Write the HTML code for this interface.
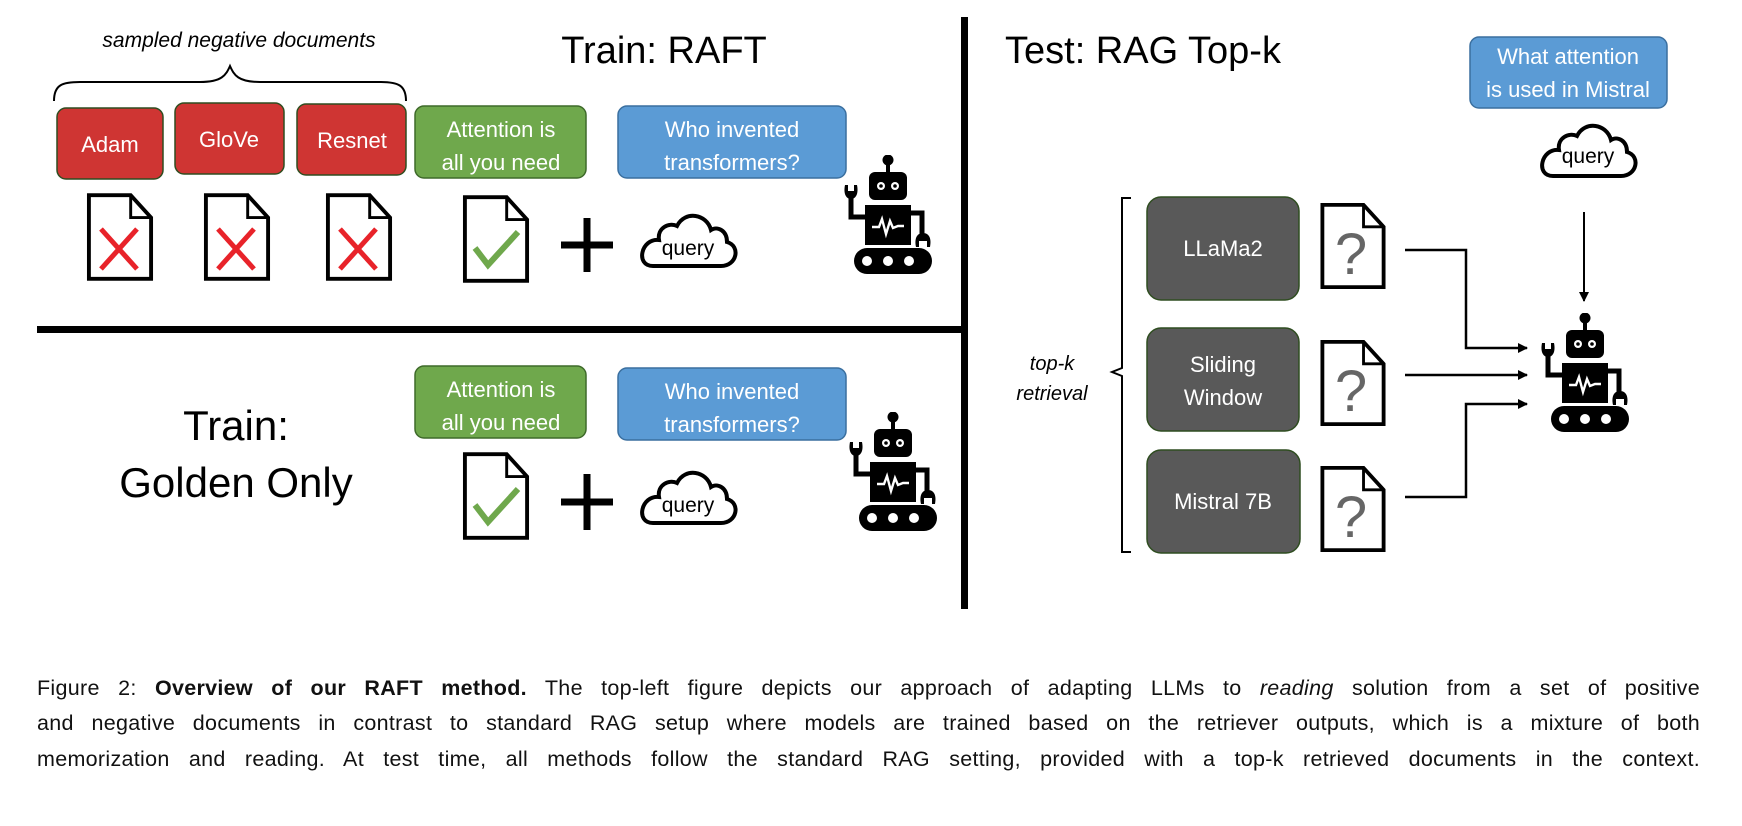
<!DOCTYPE html>
<html><head><meta charset="utf-8"><style>
html,body{margin:0;padding:0;background:#fff;width:1742px;height:826px;overflow:hidden}
svg{position:absolute;left:0;top:0}
.cap{position:absolute;left:37px;width:1663px;font-family:"Liberation Sans",sans-serif;font-size:21.5px;letter-spacing:0.3px;color:#111;text-align:justify;text-align-last:justify;white-space:nowrap}
</style></head><body>
<svg width="1742" height="826" viewBox="0 0 1742 826" font-family="Liberation Sans, sans-serif">
<defs>
<symbol id="robot" viewBox="0 0 92 120">
 <circle cx="46" cy="5" r="5.5" fill="#000"/>
 <rect x="44" y="5" width="4" height="14" fill="#000"/>
 <rect x="27" y="17" width="38" height="28" rx="6" fill="#000"/>
 <circle cx="39" cy="31" r="4" fill="#fff"/><circle cx="39" cy="31" r="1.8" fill="#000"/>
 <circle cx="53" cy="31" r="4" fill="#fff"/><circle cx="53" cy="31" r="1.8" fill="#000"/>
 <rect x="23" y="50" width="46" height="40" fill="#000"/>
 <polyline points="30,72 37,72 40,64 44,79 48,66 51,73 56,71 62,71" fill="none" stroke="#fff" stroke-width="2.4"/>
 <path d="M9,40 V62 H24" fill="none" stroke="#000" stroke-width="5"/>
 <path d="M3,30 C1,40 5,44 9,44 C13,44 17,40 15,30 L12,30 L12,36 L6,36 L6,30 Z" fill="#000"/>
 <path d="M69,58 H80 V80" fill="none" stroke="#000" stroke-width="5"/>
 <path d="M74,92 C72,82 76,78 81,78 C86,78 90,82 88,92 L85,92 L85,86 L77,86 L77,92 Z" fill="#000"/>
 <rect x="12" y="93" width="78" height="26" rx="13" fill="#000"/>
 <circle cx="25" cy="106" r="5" fill="#fff"/><circle cx="46" cy="106" r="5" fill="#fff"/><circle cx="67" cy="106" r="5" fill="#fff"/>
</symbol>
<symbol id="cloud" viewBox="0 0 110 62">
 <path d="M20,58 H88 C104,58 108,38 94,34 C94,22 84,18 78,22 C74,6 52,2 44,18 C36,14 24,20 26,32 C8,30 2,58 20,58 Z" fill="#fff" stroke="#000" stroke-width="4"/>
</symbol>
<symbol id="doc" viewBox="0 0 70 92">
 <path d="M3,3 H46 L67,26 V89 H3 Z" fill="#fff" stroke="#000" stroke-width="4"/>
 <path d="M46,3 V26 H67" fill="none" stroke="#000" stroke-width="3"/>
</symbol>
<marker id="ah" markerWidth="10" markerHeight="10" refX="9" refY="5" orient="auto" markerUnits="userSpaceOnUse"><path d="M0,0 L10,5 L0,10 Z" fill="#000"/></marker>
</defs>

<rect x="37" y="326" width="927" height="7" fill="#000"/>
<rect x="961" y="17" width="7" height="592" fill="#000"/>

<text x="239" y="47" font-size="21" font-style="italic" text-anchor="middle">sampled negative documents</text>
<path d="M54,101 C54,85 62,82 80,82 L200,82 C222,82 226,75 230,66 C234,75 238,82 260,82 L380,82 C398,82 406,85 406,101" fill="none" stroke="#000" stroke-width="2"/>
<text x="664" y="63" font-size="38" text-anchor="middle">Train: RAFT</text>

<g font-size="22" fill="#fff" text-anchor="middle">
<rect x="57" y="108" width="106" height="71" rx="9" fill="#cf3533" stroke="#2f4d20" stroke-width="1.5"/>
<text x="110" y="152">Adam</text>
<rect x="175" y="103" width="109" height="71" rx="9" fill="#cf3533" stroke="#2f4d20" stroke-width="1.5"/>
<text x="229" y="147">GloVe</text>
<rect x="297" y="104" width="109" height="71" rx="9" fill="#cf3533" stroke="#2f4d20" stroke-width="1.5"/>
<text x="352" y="148">Resnet</text>
<rect x="415" y="106" width="171" height="72" rx="9" fill="#6fa84c" stroke="#3e6a2a" stroke-width="1.5"/>
<text x="501" y="137">Attention is</text><text x="501" y="170">all you need</text>
<rect x="618" y="106" width="228" height="72" rx="9" fill="#5b9bd5" stroke="#3a6f9f" stroke-width="1.5"/>
<text x="732" y="137">Who invented</text><text x="732" y="170">transformers?</text>
</g>

<use href="#doc" x="86" y="192" width="68" height="90"/>
<use href="#doc" x="203" y="192" width="68" height="90"/>
<use href="#doc" x="325" y="192" width="68" height="90"/>
<g stroke="#e8232a" stroke-width="5">
<path d="M101,229 L137,269 M137,229 L101,269"/>
<path d="M218,229 L254,269 M254,229 L218,269"/>
<path d="M340,229 L376,269 M376,229 L340,269"/>
</g>
<use href="#doc" x="462" y="194" width="68" height="90"/>
<path d="M475,248 L488,265 L518,232" fill="none" stroke="#6fa84c" stroke-width="6"/>
<path d="M587,218 V272 M561,245 H613" stroke="#000" stroke-width="7"/>
<use href="#cloud" x="633" y="206" width="110" height="66"/>
<text x="688" y="255" font-size="21" text-anchor="middle">query</text>
<use href="#robot" x="842" y="155" width="92" height="120"/>

<text x="236" y="440" font-size="42" text-anchor="middle">Train:</text>
<text x="236" y="497" font-size="42" text-anchor="middle">Golden Only</text>
<g font-size="22" fill="#fff" text-anchor="middle">
<rect x="415" y="366" width="171" height="72" rx="9" fill="#6fa84c" stroke="#3e6a2a" stroke-width="1.5"/>
<text x="501" y="397">Attention is</text><text x="501" y="430">all you need</text>
<rect x="618" y="368" width="228" height="72" rx="9" fill="#5b9bd5" stroke="#3a6f9f" stroke-width="1.5"/>
<text x="732" y="399">Who invented</text><text x="732" y="432">transformers?</text>
</g>
<use href="#doc" x="462" y="451" width="68" height="90"/>
<path d="M475,505 L488,522 L518,489" fill="none" stroke="#6fa84c" stroke-width="6"/>
<path d="M587,474 V530 M561,502 H613" stroke="#000" stroke-width="7"/>
<use href="#cloud" x="633" y="463" width="110" height="66"/>
<text x="688" y="512" font-size="21" text-anchor="middle">query</text>
<use href="#robot" x="847" y="412" width="92" height="120"/>

<text x="1005" y="63" font-size="38">Test: RAG Top-k</text>
<rect x="1470" y="37" width="197" height="71" rx="9" fill="#5b9bd5" stroke="#3a6f9f" stroke-width="1.5"/>
<g font-size="22" fill="#fff" text-anchor="middle"><text x="1568" y="64">What attention</text><text x="1568" y="97">is used in Mistral</text></g>
<use href="#cloud" x="1533" y="116" width="110" height="66"/>
<text x="1588" y="163" font-size="21" text-anchor="middle">query</text>
<line x1="1584" y1="212" x2="1584" y2="301" stroke="#000" stroke-width="2" marker-end="url(#ah)"/>

<path d="M1131,198 H1122 V368 L1112,372 L1122,376 V552 H1131" fill="none" stroke="#000" stroke-width="2"/>
<g font-size="20" font-style="italic" text-anchor="middle"><text x="1052" y="370">top-k</text><text x="1052" y="400">retrieval</text></g>

<g font-size="22" fill="#fff" text-anchor="middle">
<rect x="1147" y="197" width="152" height="103" rx="14" fill="#595959" stroke="#2f4d20" stroke-width="1.5"/>
<text x="1223" y="256">LLaMa2</text>
<rect x="1147" y="328" width="152" height="103" rx="14" fill="#595959" stroke="#2f4d20" stroke-width="1.5"/>
<text x="1223" y="372">Sliding</text><text x="1223" y="405">Window</text>
<rect x="1147" y="450" width="153" height="103" rx="14" fill="#595959" stroke="#2f4d20" stroke-width="1.5"/>
<text x="1223" y="509">Mistral 7B</text>
</g>
<use href="#doc" x="1318" y="202" width="70" height="88"/>
<use href="#doc" x="1318" y="339" width="70" height="88"/>
<use href="#doc" x="1318" y="465" width="70" height="88"/>
<g font-size="58" fill="#666" text-anchor="middle"><text x="1351" y="274">?</text><text x="1351" y="411">?</text><text x="1351" y="537">?</text></g>

<g fill="none" stroke="#000" stroke-width="2.5">
<path d="M1405,250 H1466 V348 H1527" marker-end="url(#ah)"/>
<path d="M1405,375 H1527" marker-end="url(#ah)"/>
<path d="M1405,497 H1466 V404 H1527" marker-end="url(#ah)"/>
</g>
<use href="#robot" x="1539" y="313" width="92" height="120"/>
</svg>
<div class="cap" style="top:676px">Figure 2: <b>Overview of our RAFT method.</b> The top-left figure depicts our approach of adapting LLMs to <i>reading</i> solution from a set of positive</div>
<div class="cap" style="top:711px">and negative documents in contrast to standard RAG setup where models are trained based on the retriever outputs, which is a mixture of both</div>
<div class="cap" style="top:747px">memorization and reading. At test time, all methods follow the standard RAG setting, provided with a top-k retrieved documents in the context.</div>
</body></html>
